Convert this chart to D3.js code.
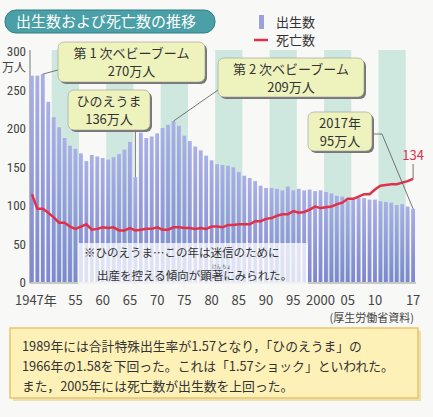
<!DOCTYPE html>
<html><head><meta charset="utf-8">
<script src="https://cdn.jsdelivr.net/npm/d3@7"></script>
<style>body{margin:0;background:#f8f8f6;font-family:"Noto Sans CJK JP",sans-serif}</style>
</head><body><div id="chart"></div>
<script>
const years = d3.range(1947, 2018);
const births = [268,268,270,234,214,201,187,177,173,167,157,165,163,161,159,162,166,172,182,136,
194,187,189,193,200,204,209,203,190,183,176,171,164,158,153,152,151,149,143,138,135,131,125,122,
122,121,119,124,119,121,119,120,118,119,117,115,112,111,106,109,109,109,107,107,105,104,103,100,101,98,95];
const deaths = [114,95,95,90,84,77,77,72,69,72,75,68,69,71,70,71,67,67,70,67,68,69,69,71,68,68,71,71,70,
70,69,70,69,72,72,71,74,74,75,75,75,79,79,82,83,86,88,88,92,90,91,94,98,96,97,98,101,103,108,108,111,114,
114,120,125,126,127,127,129,131,134];
const yTicks = [0,50,100,150,200,250,300];
const xTicks = [[1947,"1947年"],[1955,"55"],[1960,"60"],[1965,"65"],[1970,"70"],[1975,"75"],[1980,"80"],
[1985,"85"],[1990,"90"],[1995,"95"],[2000,"2000"],[2005,"05"],[2010,"10"],[2017,"17"]];
const bandStarts = [1951,1961,1971,1981,1991,2001,2011];

const svg = d3.select("#chart").append("svg").attr("width",433).attr("height",417);
const x = d3.scaleBand().domain(years).range([30, 415]).paddingInner(0.3);
const y = d3.scaleLinear().domain([0,300]).range([282, 51]);
const cx = yr => x(yr) + x.bandwidth()/2;

const defs = svg.append("defs");
const g1 = defs.append("linearGradient").attr("id","bg").attr("x1",0).attr("y1",0).attr("x2",0).attr("y2",1);
g1.append("stop").attr("offset","0%").attr("stop-color","#a9b0e6");
g1.append("stop").attr("offset","100%").attr("stop-color","#7d86d0");

// decorative columns
svg.selectAll(".col").data(bandStarts).enter().append("rect")
  .attr("x", d => x(d)).attr("width", d => x(d+5) - x(d))
  .attr("y", 50).attr("height", 232).attr("fill", "#cfe8df");

// axis
svg.append("line").attr("x1",30).attr("x2",30).attr("y1",50).attr("y2",283).attr("stroke","#777");
svg.append("line").attr("x1",30).attr("x2",416).attr("y1",283).attr("y2",283).attr("stroke","#999");
svg.selectAll(".yt").data(yTicks).enter().append("text")
  .attr("x", 26).attr("y", d => y(d) + 5).attr("text-anchor","end")
  .attr("font-size", 13).attr("fill","#444").attr("font-family","Roboto Condensed, Liberation Sans Narrow, sans-serif")
  .text(d => d);
svg.append("text").attr("x",2).attr("y",72).attr("font-size",12).attr("fill","#444").text("万人");

// bars
svg.selectAll(".bar").data(years).enter().append("rect")
  .attr("x", d => x(d)).attr("width", x.bandwidth())
  .attr("y", (d,i) => y(births[i])).attr("height", (d,i) => y(0) - y(births[i]))
  .attr("fill","url(#bg)");

// deaths line
svg.append("path").datum(years)
  .attr("d", d3.line().x(d => cx(d)).y((d,i) => y(deaths[i])))
  .attr("fill","none").attr("stroke","#e0304a").attr("stroke-width",2.5);

// note box
svg.append("rect").attr("x",78).attr("y",243).attr("width",230).attr("height",41).attr("fill","#fff").attr("opacity",0.75);
svg.append("text").attr("x",84).attr("y",257).attr("font-size",11.5).attr("fill","#333").text("※ひのえうま…この年は迷信のために");
svg.append("text").attr("x",97).attr("y",280).attr("font-size",11.5).attr("fill","#333").text("出産を控える傾向が顕著にみられた。");
svg.append("text").attr("x",212).attr("y",268).attr("font-size",4.5).attr("fill","#555").text("けん  ちょ");

// x labels
svg.selectAll(".xt").data(xTicks).enter().append("text")
  .attr("x", d => d[0] === 1947 ? cx(d[0]) + 4 : cx(d[0])).attr("y", 305).attr("text-anchor","middle")
  .attr("font-size", 13).attr("fill","#444").text(d => d[1]);
svg.append("text").attr("x",414).attr("y",322).attr("text-anchor","end").attr("font-size",11).attr("fill","#444").text("(厚生労働省資料)");

// callouts
const callouts = [
  {x:58,y:42,w:147,h:40,lines:["第 1 次ベビーブーム","270万人"],px:cx(1949),py:y(270),ax:58,ay:70},
  {x:218,y:58,w:146,h:39,lines:["第 2 次ベビーブーム","209万人"],px:cx(1973),py:y(209),ax:218,ay:90},
  {x:68,y:90,w:82,h:40,lines:["ひのえうま","136万人"],px:cx(1966),py:y(136),ax:cx(1966),ay:130},
  {x:308,y:112,w:64,h:39,lines:["2017年","95万人"],px:cx(2017),py:y(95),ax:372,ay:134}
];
callouts.forEach(c => {
  if (c.ax === 372) {
    svg.append("polyline").attr("points",`372,134 382,134 ${c.px},${c.py}`).attr("fill","none").attr("stroke","#555").attr("stroke-width",0.8);
  } else {
    svg.append("line").attr("x1",c.ax).attr("y1",c.ay).attr("x2",c.px).attr("y2",c.py).attr("stroke","#555").attr("stroke-width",0.8);
  }
  svg.append("rect").attr("x",c.x+2).attr("y",c.y+2).attr("width",c.w).attr("height",c.h).attr("rx",6).attr("fill","#777");
  svg.append("rect").attr("x",c.x).attr("y",c.y).attr("width",c.w).attr("height",c.h).attr("rx",6).attr("fill","#eef3bd").attr("stroke","#999").attr("stroke-width",0.6);
  c.lines.forEach((t,i) => svg.append("text").attr("x",c.x+c.w/2).attr("y",c.y+16+i*18).attr("text-anchor","middle").attr("font-size",13).attr("fill","#333").text(t));
});

// 134 label
svg.append("line").attr("x1",cx(2017)).attr("x2",cx(2017)).attr("y1",y(134)).attr("y2",164).attr("stroke","#555").attr("stroke-width",0.8);
svg.append("text").attr("x",cx(2017)).attr("y",160).attr("text-anchor","middle").attr("font-size",13).attr("fill","#e0304a").text("134");

// title
svg.append("rect").attr("x",5).attr("y",10).attr("width",210).attr("height",23).attr("rx",11).attr("fill","#4aa0a6").attr("stroke","#2e7f86");
svg.append("text").attr("x",16).attr("y",27).attr("font-size",15).attr("fill","#fff").text("出生数および死亡数の推移");

// legend
svg.append("rect").attr("x",259).attr("y",15).attr("width",5).attr("height",14).attr("fill","#9aa1df");
svg.append("text").attr("x",276).attr("y",27).attr("font-size",13).attr("fill","#333").text("出生数");
svg.append("line").attr("x1",254).attr("x2",268).attr("y1",40).attr("y2",40).attr("stroke","#e0304a").attr("stroke-width",2.5);
svg.append("text").attr("x",276).attr("y",45).attr("font-size",13).attr("fill","#333").text("死亡数");

// bottom note
svg.append("rect").attr("x",13).attr("y",331).attr("width",408).attr("height",70).attr("fill","#e8d9a0").attr("opacity",0.8);
svg.append("rect").attr("x",10).attr("y",328).attr("width",408).attr("height",70).attr("fill","#fdf1b8").attr("stroke","#e9c36a").attr("stroke-width",1.5);
["1989年には合計特殊出生率が1.57となり，「ひのえうま」の","1966年の1.58を下回った。これは「1.57ショック」といわれた。","また，2005年には死亡数が出生数を上回った。"]
  .forEach((t,i) => svg.append("text").attr("x",22).attr("y",351+i*20).attr("font-size",12.8).attr("fill","#333").text(t));
</script></body></html>
